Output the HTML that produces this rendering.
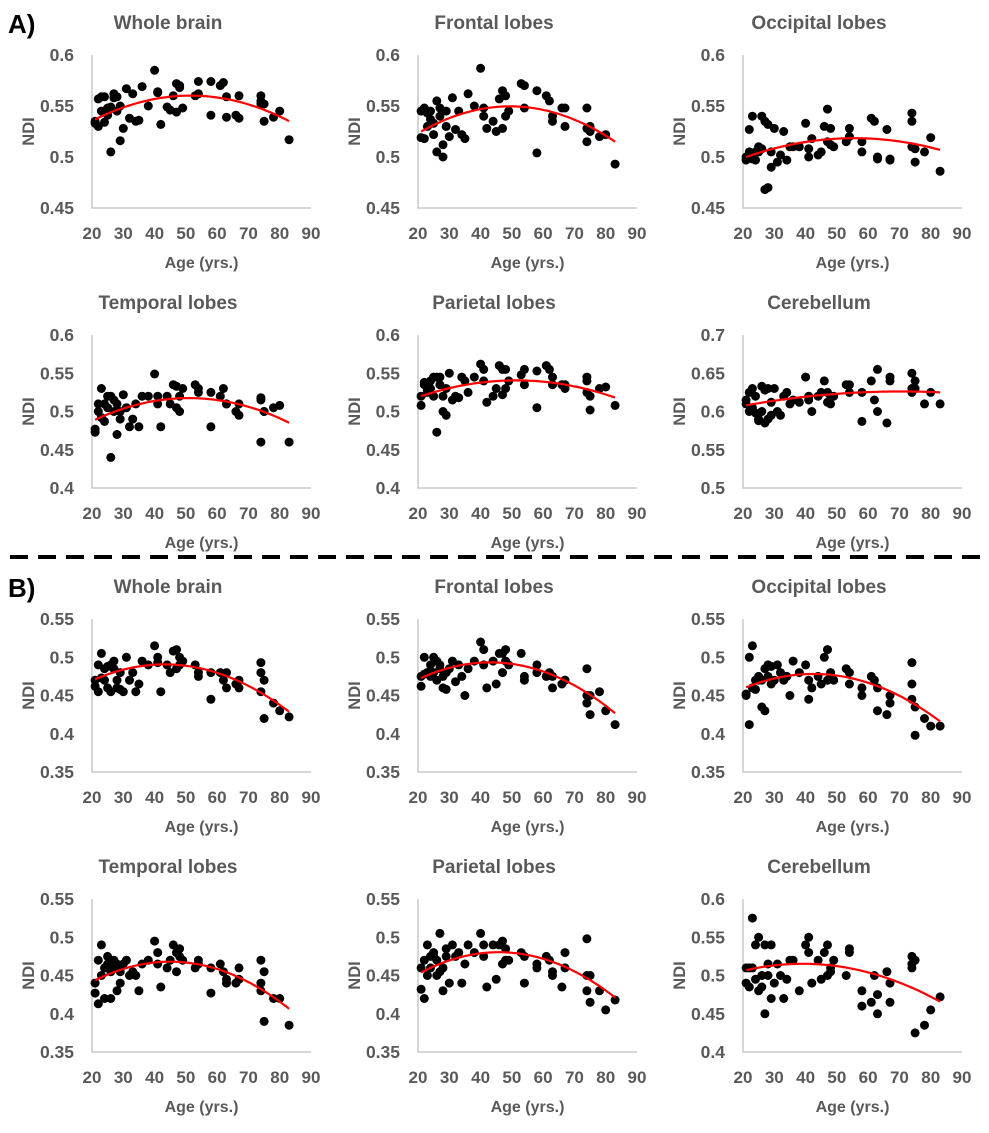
<!DOCTYPE html>
<html><head><meta charset="utf-8">
<style>
html,body{margin:0;padding:0;background:#fff;}
svg{display:block;font-family:"Liberation Sans",Arial,sans-serif;}
</style></head>
<body>
<svg id="fig" width="989" height="1133" viewBox="0 0 989 1133" xmlns="http://www.w3.org/2000/svg">
<rect width="989" height="1133" fill="#fff"/>
<text x="8" y="33" font-size="26" font-weight="bold" fill="#000">A)</text>
<text x="8" y="597" font-size="26" font-weight="bold" fill="#000">B)</text>
<line x1="10" y1="557" x2="989" y2="557" stroke="#000" stroke-width="4" stroke-dasharray="18,10"/>
</svg>
<script>
const ages = [21,21,22,22,23,23,24,24,25,25,26,26,27,27,28,28,29,29,30,31,32,33,34,35,36,38,40,41,41,42,44,45,46,47,47,48,48,49,53,54,54,58,58,61,62,63,63,66,67,67,74,74,74,75,75,78,80,83];
const xTicks = [20,30,40,50,60,70,80,90];
const fitAges = [21,35,50,65,83];

const titles = ["Whole brain","Frontal lobes","Occipital lobes","Temporal lobes","Parietal lobes","Cerebellum","Whole brain","Frontal lobes","Occipital lobes","Temporal lobes","Parietal lobes","Cerebellum"];
const yRanges = [[0.45,0.6],[0.45,0.6],[0.45,0.6],[0.4,0.6],[0.4,0.6],[0.5,0.7],[0.35,0.55],[0.35,0.55],[0.35,0.55],[0.35,0.55],[0.35,0.55],[0.4,0.6]];
const yTickLabels = [["0.45","0.5","0.55","0.6"],["0.45","0.5","0.55","0.6"],["0.45","0.5","0.55","0.6"],["0.4","0.45","0.5","0.55","0.6"],["0.4","0.45","0.5","0.55","0.6"],["0.5","0.55","0.6","0.65","0.7"],["0.35","0.4","0.45","0.5","0.55"],["0.35","0.4","0.45","0.5","0.55"],["0.35","0.4","0.45","0.5","0.55"],["0.35","0.4","0.45","0.5","0.55"],["0.35","0.4","0.45","0.5","0.55"],["0.4","0.45","0.5","0.55","0.6"]];

const aWhole = [.533,.535,.557,.530,.559,.545,.534,.559,.548,.541,.549,.505,.562,.558,.545,.559,.516,.55,.528,.567,.538,.562,.535,.536,.569,.55,.585,.563,.564,.532,.549,.546,.56,.572,.544,.568,.57,.548,.56,.574,.562,.574,.541,.57,.573,.539,.559,.541,.538,.56,.56,.552,.555,.552,.535,.539,.545,.517];
const aFrontal = [.519,.545,.548,.518,.543,.530,.537,.545,.522,.533,.555,.505,.548,.540,.512,.500,.530,.545,.520,.558,.527,.545,.522,.518,.562,.550,.587,.548,.540,.528,.535,.525,.557,.565,.528,.560,.540,.545,.572,.548,.570,.504,.565,.560,.555,.540,.535,.548,.530,.548,.548,.528,.515,.530,.525,.520,.522,.493];
const aOccipital = [.497,.500,.505,.527,.498,.540,.505,.497,.510,.505,.540,.508,.535,.468,.532,.470,.505,.490,.528,.495,.502,.525,.497,.510,.510,.510,.533,.508,.500,.518,.502,.505,.530,.547,.515,.528,.512,.510,.515,.528,.520,.505,.515,.538,.535,.498,.500,.527,.497,.498,.543,.535,.510,.508,.495,.505,.519,.486];
const aTemporal = [.473,.477,.51,.5,.492,.53,.487,.51,.52,.505,.52,.44,.515,.5,.47,.51,.49,.5,.522,.505,.48,.49,.51,.48,.52,.52,.549,.52,.51,.48,.52,.51,.535,.533,.505,.52,.5,.53,.535,.525,.53,.48,.525,.52,.53,.51,.51,.5,.51,.495,.518,.515,.46,.5,.5,.505,.508,.46];
const aParietal = [.508,.52,.538,.535,.525,.528,.54,.53,.545,.52,.545,.473,.545,.535,.5,.52,.495,.53,.55,.515,.52,.518,.545,.54,.525,.545,.562,.555,.54,.512,.52,.53,.56,.555,.522,.555,.53,.54,.548,.555,.535,.505,.553,.56,.555,.535,.545,.535,.535,.53,.54,.545,.525,.502,.52,.53,.532,.508];
const aCerebellum = [.615,.61,.625,.6,.605,.63,.598,.62,.588,.59,.633,.6,.628,.585,.59,.63,.612,.595,.63,.6,.595,.62,.625,.61,.615,.612,.645,.62,.615,.6,.62,.625,.64,.625,.612,.62,.61,.62,.635,.625,.635,.587,.625,.64,.615,.655,.6,.585,.64,.645,.65,.63,.625,.64,.63,.61,.625,.61];
const bWhole = [.462,.47,.455,.49,.473,.505,.485,.47,.46,.488,.49,.455,.495,.485,.46,.47,.458,.48,.455,.5,.47,.48,.455,.465,.495,.49,.515,.493,.5,.455,.49,.48,.508,.51,.485,.5,.49,.495,.49,.48,.475,.445,.48,.48,.47,.46,.48,.465,.46,.47,.493,.48,.455,.42,.47,.44,.43,.422];
const bFrontal = [.462,.475,.478,.5,.48,.48,.49,.475,.48,.5,.495,.47,.485,.49,.46,.475,.458,.48,.485,.495,.468,.49,.475,.45,.485,.495,.52,.49,.51,.46,.495,.465,.505,.505,.48,.51,.495,.49,.505,.475,.47,.48,.49,.475,.48,.46,.475,.465,.47,.47,.485,.45,.44,.425,.45,.455,.43,.412];
const bOccipital = [.452,.45,.5,.412,.46,.515,.47,.458,.47,.475,.47,.435,.485,.43,.49,.475,.465,.488,.47,.49,.48,.47,.475,.45,.495,.48,.49,.445,.47,.46,.475,.465,.5,.51,.47,.48,.475,.47,.485,.48,.465,.46,.45,.475,.47,.43,.46,.425,.44,.45,.493,.465,.445,.398,.435,.42,.41,.41];
const bTemporal = [.427,.44,.413,.47,.45,.49,.46,.42,.465,.475,.455,.42,.47,.46,.43,.465,.44,.455,.465,.47,.45,.455,.45,.43,.465,.47,.495,.48,.465,.435,.46,.47,.49,.48,.455,.485,.475,.47,.46,.47,.465,.427,.46,.465,.455,.445,.44,.44,.445,.46,.47,.44,.43,.39,.455,.42,.42,.385];
const bParietal = [.432,.46,.42,.47,.45,.49,.475,.46,.475,.48,.45,.47,.505,.455,.46,.43,.475,.485,.44,.49,.475,.48,.44,.465,.49,.48,.505,.49,.475,.435,.49,.445,.49,.495,.465,.485,.47,.47,.48,.475,.44,.465,.46,.475,.47,.455,.45,.435,.46,.48,.498,.45,.43,.45,.415,.43,.405,.418];
const bCerebellum = [.51,.49,.51,.485,.51,.575,.54,.495,.48,.55,.5,.485,.54,.45,.5,.515,.47,.54,.49,.515,.5,.47,.495,.52,.52,.48,.54,.53,.55,.49,.52,.495,.53,.54,.5,.51,.505,.52,.5,.53,.535,.46,.48,.465,.5,.45,.475,.505,.465,.49,.525,.515,.51,.425,.52,.435,.455,.472];

const fitAWhole = [.537,.553,.56,.556,.535];
const fitAFrontal = [.525,.543,.55,.542,.515];
const fitAOccipital = [.500,.512,.518,.517,.507];
const fitATemporal = [.49,.508,.518,.512,.485];
const fitAParietal = [.52,.535,.54,.537,.518];
const fitACerebellum = [.608,.617,.623,.626,.625];
const fitBWhole = [.472,.487,.488,.474,.428];
const fitBFrontal = [.475,.487,.49,.478,.425];
const fitBOccipital = [.462,.474,.475,.462,.415];
const fitBTemporal = [.445,.462,.465,.455,.405];
const fitBParietal = [.455,.474,.478,.468,.42];
const fitBCerebellum = [.508,.513,.512,.500,.465];

const series = [aWhole,aFrontal,aOccipital,aTemporal,aParietal,aCerebellum,bWhole,bFrontal,bOccipital,bTemporal,bParietal,bCerebellum];
const fits = [fitAWhole,fitAFrontal,fitAOccipital,fitATemporal,fitAParietal,fitACerebellum,fitBWhole,fitBFrontal,fitBOccipital,fitBTemporal,fitBParietal,fitBCerebellum];

const NS = "http://www.w3.org/2000/svg";
const svg = document.getElementById('fig');
const colLeft = [92,418,743];
const rowTop = [55,335,619,899];
const W = 219, H = 153;
const GRAY = "#595959";

function mk(tag, attrs, parent){
  const e = document.createElementNS(NS, tag);
  for (const k in attrs) e.setAttribute(k, attrs[k]);
  parent.appendChild(e);
  return e;
}
// least-squares quadratic through the fit points
function quadFit(xs, ys){
  let S=[0,0,0,0,0], T=[0,0,0];
  for (let i=0;i<xs.length;i++){
    const x=xs[i]-50; let p=1;
    for (let k=0;k<5;k++){ S[k]+=p; if(k<3) T[k]+=ys[i]*p; p*=x; }
  }
  const M=[[S[0],S[1],S[2],T[0]],[S[1],S[2],S[3],T[1]],[S[2],S[3],S[4],T[2]]];
  for (let i=0;i<3;i++){
    for (let j=i+1;j<3;j++){
      const f=M[j][i]/M[i][i];
      for (let k=i;k<4;k++) M[j][k]-=f*M[i][k];
    }
  }
  const c=[0,0,0];
  for (let i=2;i>=0;i--){
    let s=M[i][3];
    for (let k=i+1;k<3;k++) s-=M[i][k]*c[k];
    c[i]=s/M[i][i];
  }
  return x => c[0]+c[1]*(x-50)+c[2]*(x-50)*(x-50);
}
const slug = t => t.toLowerCase().replace(/\s+/g,'-');

for (let p=0;p<12;p++){
  const sec = p<6 ? 'a' : 'b';
  const col = p%3, row = Math.floor(p/3);
  const L = colLeft[col], T = rowTop[row], B = T+H;
  const [y0,y1] = yRanges[p];
  const xs = a => L + (a-20)/70*W;
  const ys = v => B - (v-y0)/(y1-y0)*H;
  const g = mk('g', {}, svg);
  
  

  const title = mk('text', {x:L+76, y:T-26, 'font-size':19, 'font-weight':'bold', fill:GRAY, 'text-anchor':'middle'}, g);
  title.textContent = titles[p];
  
  

  const ax = mk('path', {d:`M${L},${T}V${B}H${L+W}`, stroke:'#bfbfbf', 'stroke-width':1.3, fill:'none'}, g);
  
  

  const labs = yTickLabels[p];
  labs.forEach((lab,i)=>{
    const v = parseFloat(lab);
    const t = mk('text', {x:L-18, y:ys(v)+6, 'font-size':17.5, 'font-weight':'bold', fill:GRAY, 'text-anchor':'end'}, g);
    t.textContent = lab;
    
    
  });
  xTicks.forEach(a=>{
    const t = mk('text', {x:xs(a), y:B+31, 'font-size':17, 'font-weight':'bold', fill:GRAY, 'text-anchor':'middle'}, g);
    t.textContent = String(a);
    
    
  });
  const yt = mk('text', {x:0, y:0, 'font-size':16.5, 'font-weight':'bold', fill:GRAY, 'text-anchor':'middle', transform:`translate(${L-58},${T+H/2}) rotate(-90)`}, g);
  yt.textContent = 'NDI';
  
  
  const xt = mk('text', {x:L+W/2, y:B+60, 'font-size':16, 'font-weight':'bold', fill:GRAY, 'text-anchor':'middle'}, g);
  xt.textContent = 'Age (yrs.)';
  
  

  const vals = series[p];
  ages.forEach((a,i)=>{
    const c = mk('circle', {cx:xs(a).toFixed(1), cy:ys(vals[i]).toFixed(1), r:4.5, fill:'#000'}, g);
    
    
  });

  const q = quadFit(fitAges, fits[p]);
  let d = '';
  for (let a=fitAges[0]; a<=fitAges[fitAges.length-1]+0.001; a+=1){
    d += (d?'L':'M') + xs(a).toFixed(1) + ',' + ys(q(a)).toFixed(1);
  }
  const fl = mk('path', {d:d, stroke:'#ff0000', 'stroke-width':2.2, fill:'none'}, g);
  
  
}
</script>
</body></html>
